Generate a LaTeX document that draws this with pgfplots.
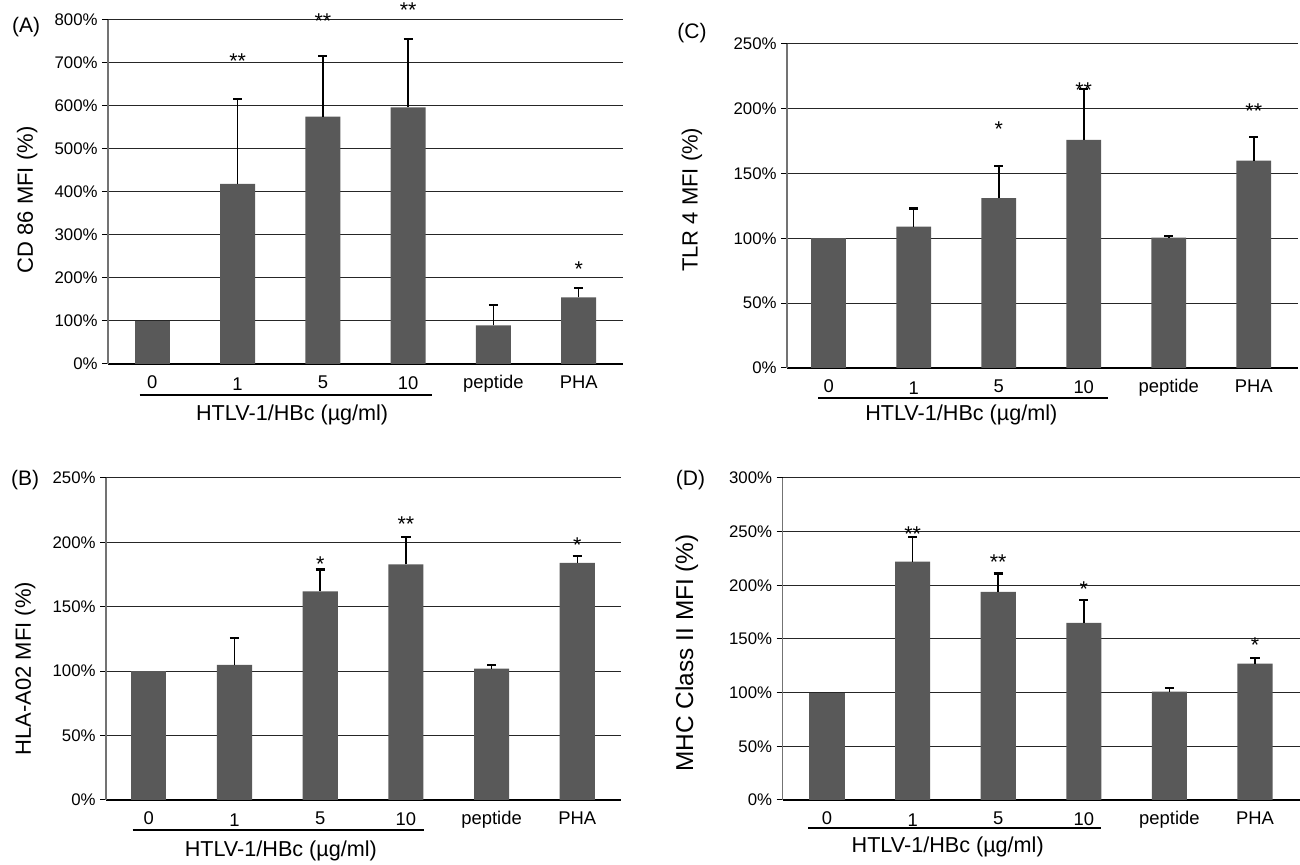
\documentclass[border=0pt]{standalone}
\usepackage{fontspec}
\setmainfont{Liberation Sans}
\usepackage{pgfplots}
\pgfplotsset{compat=1.18}
\usetikzlibrary{calc}
\pgfplotsset{
  panel/.style={
    scale only axis, anchor=south west, clip=false,
    axis lines*=left,
    x axis line style={black, line width=0.9pt},
    y axis line style={black!55, line width=0.6pt},
    xtick={0,...,5},
    xticklabels={0,\raisebox{-0.6pt}{1},5,\raisebox{-0.5pt}{10},peptide,PHA},
    major x tick style={draw=none},
    tick align=outside, major tick length=3pt,
    major y tick style={black, line width=0.5pt},
    ymajorgrids, major grid style={black!85, line width=0.5pt},
    ymin=0,
    /pgf/number format/assume math mode=true,
    yticklabel={\pgfmathprintnumber{\tick}\%},
    y tick label style={font=\fontsize{8.4}{10}\selectfont, inner sep=2pt},
    x tick label style={font=\fontsize{9.2}{11}\selectfont, text height=6.5pt, text depth=2pt, yshift=0.6pt},
    ylabel style={font=\fontsize{11}{13}\selectfont, anchor=center},
  },
  bars/.style={ybar, bar width=0.41, fill=black!65, draw=none,
    error bars/.cd, y dir=plus, y explicit,
    error bar style={black, line width=0.8pt},
    error mark options={black, rotate=90, mark size=2.3pt, line width=1.1pt}},
  bar0/.style={ybar, bar width=0.41, fill=black!65, draw=none},
  stars/.style={draw=none, mark=none, nodes near coords, point meta=explicit symbolic,
    nodes near coords style={anchor=base, yshift=-6.2pt, font=\fontsize{10.7}{12}\selectfont}},
}
\newcommand{\bottomdeco}[5]{%
  \draw[black, line width=1pt] ($(axis cs:#1,0)+(0pt,-#4)$) -- ($(axis cs:#2,0)+(0pt,-#4)$);
  \node[font=\fontsize{10.8}{12}\selectfont] at ($(axis cs:#3,0)+(0pt,-#5)$) {HTLV-1/HBc (µg/ml)};
}
\begin{document}
\begin{tikzpicture}
\useasboundingbox (0,0) rectangle (650pt,432.5pt);

% (A)
\begin{axis}[panel, at={(54pt,250.5pt)}, width=257.5pt, height=172pt,
  xmin=-0.52, xmax=5.52, ymax=800, ytick={0,100,...,800},
  ylabel={CD 86 MFI (\%)}, ylabel style={at={(axis description cs:-0.157,0.477)}}]
\addplot[bar0] coordinates {(0,100)};
\addplot[bars] coordinates {(1,419) +- (0,198) (2,575) +- (0,141)
  (3,597) +- (0,159) (4,90) +- (0,47) (5,155) +- (0,22)};
\addplot[stars] coordinates {(1,715) [**] (2,808) [**] (3,835) [**] (5,233) [*]};
\bottomdeco{-0.15}{3.28}{1.64}{15.3pt}{25.5pt}
\node[font=\fontsize{10.5}{12}\selectfont] at (axis description cs:-0.159,0.98) {(A)};
\end{axis}

% (C)
\begin{axis}[panel, at={(393.5pt,248.5pt)}, width=255.5pt, height=162pt,
  xmin=-0.49, xmax=5.52, ymax=250, ytick={0,50,...,250},
  ylabel={TLR 4 MFI (\%)}, ylabel style={at={(axis description cs:-0.186,0.519)}}]
\addplot[bar0] coordinates {(0,100)};
\addplot[bars] coordinates {(1,109) +- (0,14) (2,131) +- (0,25)
  (3,176) +- (0,39) (4,100.5) +- (0,1.5) (5,160) +- (0,18)};
\addplot[stars] coordinates {(2,188) [*] (3,218) [**] (5,202) [**]};
\bottomdeco{-0.12}{3.29}{1.56}{14.8pt}{23.5pt}
\node[font=\fontsize{10.5}{12}\selectfont] at (axis description cs:-0.186,1.034) {(C)};
\end{axis}

% (B)
\begin{axis}[panel, at={(53pt,32.5pt)}, width=257.5pt, height=161pt,
  xmin=-0.5, xmax=5.51, ymax=250, ytick={0,50,...,250},
  ylabel={HLA-A02 MFI (\%)}, ylabel style={at={(axis description cs:-0.157,0.408)}}]
\addplot[bar0] coordinates {(0,100)};
\addplot[bars] coordinates {(1,105) +- (0,21) (2,162) +- (0,17)
  (3,183) +- (0,21) (4,102) +- (0,3) (5,184) +- (0,5.5)};
\addplot[stars] coordinates {(2,187) [*] (3,218) [**] (5,202) [*]};
\bottomdeco{-0.19}{3.21}{1.54}{14.8pt}{25.5pt}
\node[font=\fontsize{10.5}{12}\selectfont] at (axis description cs:-0.157,0.994) {(B)};
\end{axis}

% (D)
\begin{axis}[panel, at={(391.25pt,32.5pt)}, width=258.5pt, height=161pt,
  xmin=-0.52, xmax=5.52, ymax=300, ytick={0,50,...,300},
  ylabel={MHC Class II MFI (\%)},
  ylabel style={at={(axis description cs:-0.185,0.457)}, font=\fontsize{12.2}{14}\selectfont}]
\addplot[bar0] coordinates {(0,100)};
\addplot[bars] coordinates {(1,222) +- (0,23) (2,194) +- (0,17)
  (3,165) +- (0,21) (4,101) +- (0,3) (5,127) +- (0,5)};
\addplot[stars] coordinates {(1,252) [**] (2,226) [**] (3,201) [*] (5,149) [*]};
\bottomdeco{-0.22}{3.2}{1.41}{14pt}{23.5pt}
\node[font=\fontsize{10.5}{12}\selectfont] at (axis description cs:-0.178,0.994) {(D)};
\end{axis}
\end{tikzpicture}
\end{document}
